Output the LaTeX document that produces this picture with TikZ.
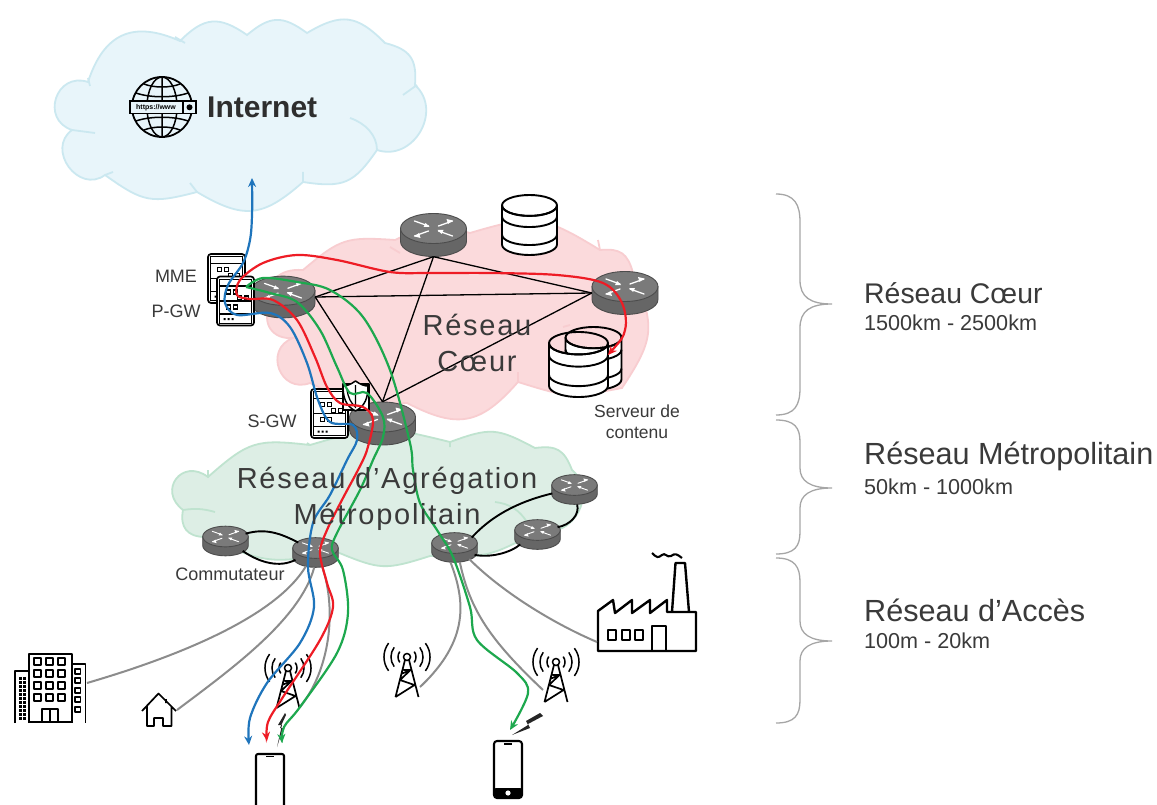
\documentclass[tikz,border=0pt]{standalone}
\usepackage{fontspec}
\usetikzlibrary{arrows.meta,shapes.geometric}
\setmainfont{Liberation Sans}
\newfontfamily\cloudf[LetterSpace=6]{Liberation Sans}
\definecolor{cblue}{HTML}{1F75BC}
\definecolor{cred}{HTML}{EE1C25}
\definecolor{cgreen}{HTML}{1DA84E}
\definecolor{cgray}{HTML}{8C8C8C}
\definecolor{txt}{HTML}{3A3A3A}
\definecolor{inetfill}{HTML}{E8F5FA}
\definecolor{inetline}{HTML}{CBE8F0}
\definecolor{corefill}{HTML}{FBDADC}
\definecolor{coreline}{HTML}{F8CDD0}
\definecolor{metrofill}{HTML}{DDEEE5}
\definecolor{metroline}{HTML}{BFE3CF}
\tikzset{
 lobe/.style={bend right=#1,looseness=1.3},
 routernode/.style={ellipse,inner sep=0pt,draw=none},
 icon/.style={draw=black,line width=1.5pt,line join=round},
 blackline/.style={draw=black,line width=1.3pt},
 link/.style={draw=black,line width=1.9pt},
 grayline/.style={draw=cgray,line width=2pt},
 flow/.style={line width=2.2pt,>={Stealth[length=9pt,width=8pt]}},
 brace/.style={draw=black!35,line width=1.3pt},
 smalllabel/.style={font=\fontsize{18}{21}\selectfont,text=txt,inner sep=0pt},
 cloudlabel/.style={font=\cloudf\fontsize{29}{34}\selectfont,text=txt,inner sep=0pt},
 bigtitle/.style={font=\fontsize{30.6}{34}\selectfont,text=txt,anchor=west,inner sep=0pt},
 subtitle/.style={font=\fontsize{21.6}{24}\selectfont,text=txt,anchor=west,inner sep=0pt},
}
\newcommand\router[4]{%
 \begin{scope}[shift={(#2,#3)},scale=#4]
  \fill[black!60,draw=black!70,line width=.9pt] (-33,-6.5) -- (-33,6.5) arc[start angle=180,end angle=0,x radius=33,y radius=15] -- (33,-6.5) -- cycle;
  \fill[black!52,draw=black!70,line width=.9pt] (0,-6.5) ellipse[x radius=33,y radius=15];
  \draw[white,line width=#4*1.3pt,line cap=round] (-19,-14) -- (-5,-9) (19,-14) -- (5,-9) (-19,1) -- (-5,-4) (19,1) -- (5,-4);
  \fill[white] (19,-14.5) -- (13,-16) -- (14.5,-11) -- cycle (-19,1.5) -- (-13,3) -- (-14.5,-2) -- cycle (-4,-8) -- (-10,-8) -- (-8,-12) -- cycle (4,-5) -- (10,-5) -- (8,-1) -- cycle;
 \end{scope}
 \node[routernode,minimum width=#4*66pt,minimum height=#4*43pt] (#1) at (#2,#3) {};}
\newcommand\serverbox[2]{%
 \begin{scope}[shift={(#1,#2)}]
  \draw[icon,line width=1.7pt,fill=white,rounded corners=3pt] (-18.5,-24.5) rectangle (18.5,24.5);
  \draw[line width=.9pt] (-16,-22) rectangle (16,22);
  \draw[line width=1.4pt] (-16,-15) -- (16,-15) (-16,0) -- (16,0) (-16,13) -- (16,13);
  \draw[line width=1.1pt,fill=white] (-9,-11) rectangle +(4,4) (-2,-11) rectangle +(4,4)
    (2,-5) rectangle +(4,4) (9,-5) rectangle +(4,4)
    (-9,4) rectangle +(4,4) (-2,4) rectangle +(4,4);
  \fill (-12,17) rectangle +(2,2) (-8,17) rectangle +(2,2) (-4,17) rectangle +(2,2);
 \end{scope}}
\newcommand\dbstack[4]{% cx top w h
 \begin{scope}[shift={(#1,#2)}]
  \pgfmathsetmacro\ry{#3*0.19}
  \draw[icon,line width=1.9pt,fill=white] (-#3/2,\ry) -- (-#3/2,#4-\ry) arc[start angle=180,end angle=0,x radius=#3/2,y radius=\ry] -- (#3/2,\ry) arc[start angle=0,end angle=180,x radius=#3/2,y radius=\ry] -- cycle;
  \draw[icon,line width=1.9pt] (0,\ry) ellipse[x radius=#3/2,y radius=\ry];
  \foreach \f in {0.36,0.66}{\draw[icon,line width=1.9pt] (-#3/2,#4*\f) arc[start angle=180,end angle=0,x radius=#3/2,y radius=\ry];}
 \end{scope}}
\newcommand\towericon[2]{% circle centre
 \begin{scope}[shift={(#1,#2)}]
  \draw[line width=1.5pt] (0,0) circle[radius=3.5];
  \draw[line width=1.7pt,line join=round] (-2,3) -- (-11.5,40) (2,3) -- (11.5,40) (-3.5,13) -- (3.5,13) -- (-7,23) -- (7.5,28) -- (-11.5,40) (3.5,13) -- (-6,17);
  \foreach \r in {9,16,23}{
   \draw[line width=1.5pt] (-\r*.8,\r*.6) arc[start angle=143,end angle=217,radius=\r];
   \draw[line width=1.5pt] (\r*.8,-\r*.6) arc[start angle=-37,end angle=37,radius=\r];}
 \end{scope}}
\begin{document}
\begin{tikzpicture}[x=1pt,y=1pt,yscale=-1]
\useasboundingbox (0,0) rectangle (1157,805);
\fill[white] (0,0) rectangle (1157,805);
% --- clouds
\draw[fill=inetfill,draw=inetline,line width=1.8pt]
 (88,82) to[lobe=48] (180,41) to[lobe=40] (247,35) to[lobe=38] (307,33) to[lobe=38] (385,43) to[lobe=40] (415,85) to[lobe=78] (377,150) to[lobe=32] (303,182) to[lobe=36] (197,192) to[lobe=25] (105,175) to[bend right=90,looseness=1.5] (72,130) to[bend right=90,looseness=1.7] cycle;
\draw[draw=inetline,line width=1.8pt] (175,37) -- (185,43) (403,95) -- (417,85) (350,118) .. controls (365,123) and (377,135) .. (377,150) (303,172) -- (303,182) (190,183) -- (197,192) (113,172) -- (105,175) (95,133) -- (72,130) (88,78) -- (90,86);
\draw[fill=corefill,draw=coreline,line width=1.8pt]
 (303,270) to[lobe=22] (395,240) to[lobe=20] (470,233) to[lobe=24] (600,250) to[lobe=40] (633,273) to[lobe=28] (622,388) to[lobe=14] (518,382) to[lobe=38] (407,403) to[lobe=14] (310,383) to[bend right=90,looseness=1.7] (293,338) to[lobe=60] (270,305) to[lobe=50] cycle;
\draw[draw=coreline,line width=1.8pt] (518,372) -- (518,382) (598,240) -- (600,250) (390,247) -- (400,253) (563,327) -- (570,325);
\draw[fill=metrofill,draw=metroline,line width=1.8pt]
 (208,477) to[lobe=24] (310,445) to[lobe=15] (450,442) to[lobe=24] (535,448) to[lobe=38] (572,470) to[lobe=78] (540,530) to[lobe=15] (430,556) to[lobe=20] (337,552) to[lobe=17] (205,537) to[lobe=50] (183,510) to[bend right=90,looseness=2] cycle;
\draw[draw=metroline,line width=1.8pt] (183,510) to[bend right=12] (215,512) (495,502) to[bend right=25] (527,522) (208,477) -- (208,470) (310,445) -- (307,443) (450,442) -- (450,447);
% --- routers
\router{rC}{283}{297}{0.97}
\router{rA}{433.5}{235}{1}
\router{rB}{625}{293}{1}
\router{rD}{382.5}{423.5}{1}
\router{sA}{225.5}{541}{0.69}
\router{sB}{315.5}{552.5}{0.69}
\router{sC}{454.5}{547.5}{0.69}
\router{sD}{537.5}{534.5}{0.69}
\router{sE}{574.5}{489.5}{0.69}
% --- core mesh
\draw[blackline] (rC.east) -- (rA.south);
\draw[blackline] (rC.east) -- (rB.west);
\draw[blackline] (rC.east) -- (rD.north);
\draw[blackline] (rA.south) -- (rB.west);
\draw[blackline] (rA.south) -- (rD.north);
\draw[blackline] (rB.west) -- (rD.north);
% --- metro links
\draw[link] (sA.20) .. controls (265,528) and (280,533) .. (sB.150);
\draw[link] (sA.-30) .. controls (260,563) and (280,568) .. (sB.-160);
\draw[link] (sC.30) .. controls (495,512) and (525,500) .. (sE.190);
\draw[link] (sC.-20) .. controls (490,558) and (510,553) .. (sD.-150);
\draw[link] (sD.20) .. controls (570,525) and (580,515) .. (sE.-80);
% --- icons
\coordinate (bld) at (87,683);
\coordinate (hse) at (177,710);
\begin{scope}[icon]
 \draw[icon,line width=1.8pt] (29,723) -- (29,654) -- (72,654) -- (72,723);
 \draw[icon,line width=1.8pt] (15,723) -- (15,671) -- (29,671);
 \draw[icon,line width=1.8pt] (72,664) -- (85.5,664) -- (85.5,723);
 \draw[icon,line width=1.8pt] (29,722) -- (72,722);
 \draw[icon,line width=1.8pt] (42,722) -- (42,709) -- (58,709) -- (58,722) (50,709) -- (50,722);
 \foreach \y in {658,670,682,694}{\foreach \x in {34,46,58}{\draw[icon,line width=1.7pt] (\x,\y) rectangle +(7,7);}}
 \foreach \y in {669,678,688,697,707}{\draw[icon,line width=1.5pt] (75,\y) rectangle +(5.5,5);}
 \foreach \y in {677,681,...,717}{\foreach \x in {19,23}{\fill (\x,\y) rectangle +(2.5,2.5);}}
 % house
 \draw[icon,line width=1.7pt] (142,711) -- (158.5,693.5) -- (176,711) (147,706) -- (147,726) -- (154,726) -- (154,718) -- (163,718) -- (163,726) -- (171.5,726) -- (171.5,706) (166,699) -- (166,703);
\end{scope}
\towericon{288}{668}
\towericon{407}{657}
\towericon{556}{662}
\fill[black!85] (285,713) -- (278,725) -- (282,725) -- (277,747) -- (283,728) -- (280,728) -- (286,715) -- cycle;
\fill[black!85] (540,713) -- (526,721) -- (528,725) -- (512,735) -- (530,728) -- (528,724) -- (543,716) -- cycle;
% phones
\begin{scope}[shift={(256,754)}]
 \draw[icon,line width=2.1pt,rounded corners=2pt] (0,0) rectangle (28,54);
 \draw[line width=1.3pt] (10,2.5) -- (18,2.5);
\end{scope}
\begin{scope}[shift={(494,741)}]
 \draw[icon,line width=2.1pt,rounded corners=3pt,fill=white] (0,0) rectangle (28,57);
 \fill[rounded corners=2pt] (0,47) rectangle (28,57);
 \fill[white] (14,52) circle[radius=2.6];
 \draw[line width=1.3pt] (10,3) -- (18,3);
\end{scope}
% factory
\draw[icon,line width=2.4pt] (598,651) -- (598,611) -- (613,600) -- (615,613) -- (632,600) -- (632,613) -- (650,600) -- (650,613) -- (667,600) -- (667,612) -- (696,612) -- (696,651) -- cycle;
\draw[icon,line width=2.4pt] (672,612) -- (675.5,563) -- (685,563) -- (689,612);
\draw[icon,line width=2pt] (608,630) rectangle (616,640) (622,630) rectangle (630,640) (635,630) rectangle (643,640);
\draw[icon,line width=2.1pt] (652,651) -- (652,626) -- (666,626) -- (666,651);
\draw[line width=2.1pt] (652,553) .. controls (657,558) and (658,558) .. (662,555) .. controls (665,552) and (667,558) .. (671,556) .. controls (675,553) and (677,554) .. (682,558);
\coordinate (fct) at (597,642);
\coordinate (twA) at (300,707);
\coordinate (twB) at (420,687);
\coordinate (twC) at (543,690);
% servers, shield
\serverbox{226.5}{278.5}
\serverbox{235.5}{301}
\serverbox{329.5}{413.5}
\draw[icon,fill=white] (343,384) rectangle (369,410);
\draw[icon,fill=white] (355.5,381) .. controls (350,385) and (346,386) .. (343,386) .. controls (343,398) and (346,406) .. (355.5,411) .. controls (365,406) and (368,398) .. (368,386) .. controls (365,386) and (361,385) .. (355.5,381) -- cycle;
\draw[line width=1.3pt] (355.5,385) -- (355.5,408) (347,389) .. controls (348,398) and (351,403) .. (355.5,407);
\dbstack{529.5}{195}{55}{60}
\dbstack{593.5}{327}{56}{63}
\dbstack{578.5}{332}{59}{65}
% --- access lines
\draw[grayline] (sB.-125) .. controls (280,610) and (200,650) .. (bld);
\draw[grayline] (sB.-95) .. controls (300,620) and (230,670) .. (hse);
\draw[grayline] (sB.-65) .. controls (337,610) and (330,670) .. (twA);
\draw[grayline] (sC.-105) .. controls (465,600) and (470,640) .. (twB);
\draw[grayline] (sC.-70) .. controls (470,610) and (490,640) .. (twC);
\draw[grayline] (sC.-38) .. controls (500,590) and (550,622) .. (fct);
% --- flows
\coordinate (inetA) at (252,178);
\coordinate (phA) at (249,745);
\coordinate (phAb) at (267,741);
\coordinate (phAc) at (282,743);
\coordinate (phB) at (510,730);
\coordinate (srv) at (608,355);
\coordinate (loopG) at (246,287);
\draw[flow,cblue,<->] plot[smooth,tension=.55] coordinates {(inetA) (252,215) (250,240) (243,263) (228,285) (225,303) (237,315) (270,313) (290,327) (307,363) (318,400) (330,422) (353,425) (357,440) (347,460) (330,495) (313,523) (308,567) (314,607) (300,643) (267,683) (250,718) (phA)};
\draw[flow,cred,<->] plot[smooth,tension=.55] coordinates {(srv) (625,330) (622,303) (603,283) (557,275) (490,273) (430,273) (390,272) (337,260) (297,255) (263,263) (240,280) (237,295) (250,299) (273,300) (297,320) (315,357) (327,387) (340,403) (363,407) (373,420) (367,450) (358,470) (343,498) (327,530) (320,553) (327,583) (333,607) (320,640) (283,697) (268,722) (phAb)};
\draw[flow,cgreen,->] plot[smooth,tension=.55] coordinates {(loopG) (270,293) (297,302) (320,330) (337,367) (350,393) (367,393) (383,417) (383,437) (373,460) (360,490) (337,533) (332,550) (343,570) (348,613) (337,653) (300,707) (284,727) (phAc)};
\draw[flow,cgreen,->] plot[smooth,tension=.55] coordinates {(loopG) (263,278) (297,282) (330,290) (363,317) (390,370) (410,443) (413,470) (420,503) (437,530) (453,557) (470,607) (477,640) (517,673) (528,693) (phB)};
% --- braces
\draw[brace] (776,194) .. controls (795,194) and (800,205) .. (800,222) -- (800,280) .. controls (800,297) and (810,304) .. (832,304) .. controls (810,304) and (800,311) .. (800,328) -- (800,388) .. controls (800,405) and (795,415) .. (776,415);
\draw[brace] (776,420) .. controls (795,420) and (800,428) .. (800,442) -- (800,468) .. controls (800,481) and (810,488) .. (832,488) .. controls (810,488) and (800,495) .. (800,508) -- (800,532) .. controls (800,546) and (795,554) .. (776,554);
\draw[brace] (776,558) .. controls (795,558) and (800,567) .. (800,582) -- (800,621) .. controls (800,634) and (810,641) .. (832,641) .. controls (810,641) and (800,648) .. (800,661) -- (800,700) .. controls (800,715) and (795,723) .. (776,723);
% --- globe
\begin{scope}[shift={(162,107)}]
 \draw[line width=1.8pt] (0,0) circle[radius=30];
 \draw[line width=1.5pt] (0,0) ellipse[x radius=15,y radius=30] (0,-30) -- (0,30);
 \draw[line width=1.5pt] (-26,-14) .. controls (-12,-9) and (12,-9) .. (26,-14) (-26,14) .. controls (-12,9) and (12,9) .. (26,14) (-18,-23) .. controls (-8,-19) and (8,-19) .. (18,-23) (-18,23) .. controls (-8,19) and (8,19) .. (18,23);
 \draw[line width=1.7pt,fill=inetfill] (-32,-6) rectangle (34,6.5);
 \draw[line width=1.5pt] (21,-6) -- (21,6.5);
 \fill (27.5,0.3) circle[radius=3];
 \node[inner sep=0pt,font=\bfseries\fontsize{7}{8}\selectfont] (url) at (-6,0.3) {https://www};
\end{scope}
% --- text
\node[font=\bfseries\fontsize{30}{34}\selectfont,text=black!82,anchor=base west,inner sep=0pt] (inet) at (207,118) {Internet};
\node[cloudlabel] (l1) at (477,325) {Réseau};
\node[cloudlabel] (l2) at (477,362) {Cœur};
\node[cloudlabel] (l3) at (387,481) {Réseau d’Agrégation};
\node[cloudlabel] (l4) at (387,517) {Métropolitain};
\node[smalllabel] (t1) at (176,276) {MME};
\node[smalllabel] (t2) at (176,311) {P-GW};
\node[smalllabel] (t3) at (272,421) {S-GW};
\node[smalllabel] (t4) at (230,574) {Commutateur};
\node[smalllabel,align=center,font=\fontsize{17.5}{21}\selectfont] (t5) at (637,422) {Serveur de\\contenu};
\node[bigtitle,font=\fontsize{28.4}{32}\selectfont] (r1) at (864,293) {Réseau Cœur};
\node[subtitle] (r1s) at (864,323) {1500km - 2500km};
\node[bigtitle] (r2) at (864,456) {Réseau Métropolitain};
\node[subtitle] (r2s) at (864,487) {50km - 1000km};
\node[bigtitle] (r3) at (864,610) {Réseau d’Accès};
\node[subtitle] (r3s) at (864,641) {100m - 20km};
\end{tikzpicture}
\end{document}
